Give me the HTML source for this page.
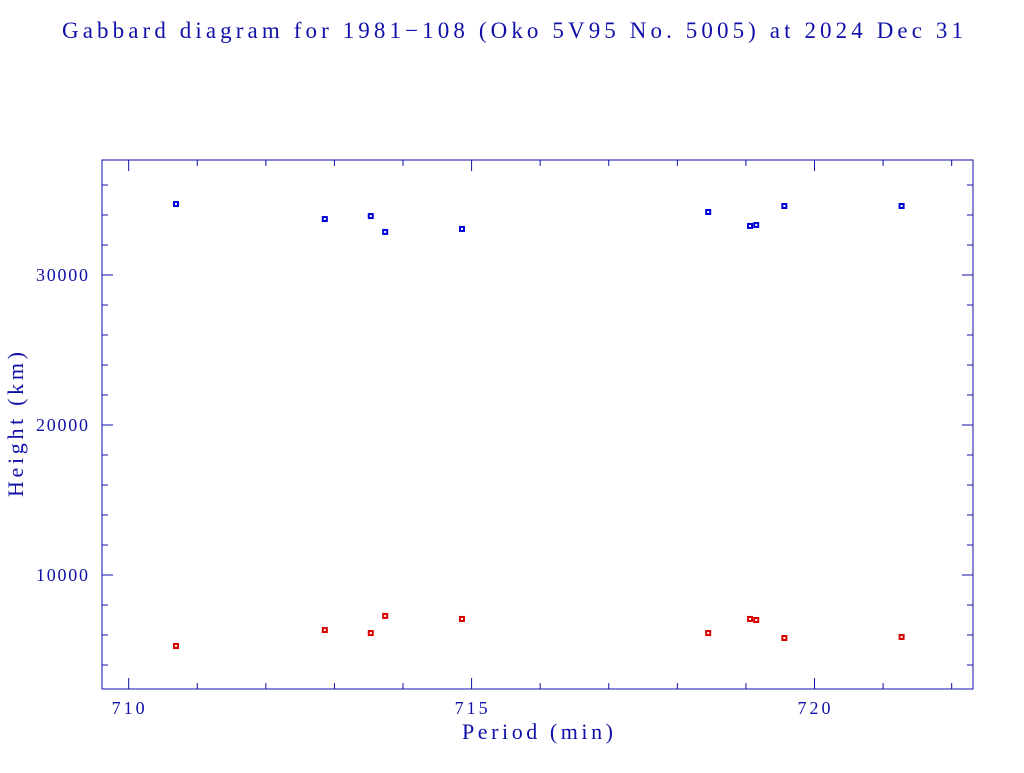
<!DOCTYPE html>
<html><head><meta charset="utf-8"><style>
body{margin:0;background:#fff;width:1024px;height:768px;overflow:hidden}
svg text{font-family:"Liberation Serif",serif;fill:#1010a8}
</style></head><body>
<svg width="1024" height="768">
<text x="62" y="38" font-size="23" textLength="901" lengthAdjust="spacing">Gabbard diagram for 1981−108 (Oko 5V95 No. 5005) at 2024 Dec 31</text>
<rect x="102" y="160" width="871" height="529" fill="none" stroke="#1010a8" stroke-width="1"/>
<g id="ticks"></g>
<g id="pts"></g>
<text x="462" y="739" font-size="22" textLength="151" lengthAdjust="spacing">Period (min)</text>
<text transform="translate(23,497) rotate(-90)" font-size="22" textLength="145" lengthAdjust="spacing">Height (km)</text>
</svg>
<script>
const periods=[710.69,712.86,713.53,713.74,714.86,718.45,719.06,719.15,719.56,721.27];
const apogees=[34730,33730,33930,32870,33070,34200,33270,33330,34600,34600];
const perigees=[5270,6330,6130,7270,7070,6130,7070,7000,5800,5870];
const xTicks=[710,715,720];
const yTicks=[10000,20000,30000];
const X0=102,X1=973,Y0=160,Y1=689,xmin=709.611,xmax=722.311,ymin=2400,ymax=37667;
const sx=v=>X0+(v-xmin)/(xmax-xmin)*(X1-X0);
const sy=v=>Y1-(v-ymin)/(ymax-ymin)*(Y1-Y0);
const NS="http://www.w3.org/2000/svg";
const tg=document.getElementById('ticks'),pg=document.getElementById('pts');
function line(x1,y1,x2,y2){const l=document.createElementNS(NS,'line');l.setAttribute('x1',x1);l.setAttribute('y1',y1);l.setAttribute('x2',x2);l.setAttribute('y2',y2);l.setAttribute('stroke','#1010a8');


tg.appendChild(l);}
for(let m=710;m<=722;m++){const x=sx(m),L=(m%5==0)?11:6;line(x,Y1,x,Y1-L);line(x,Y0,x,Y0+L);}
for(let v=4000;v<=36000;v+=2000){const y=sy(v),L=(v%10000==0)?11:6;line(X0,y,X0+L,y);line(X1,y,X1-L,y);}
xTicks.forEach(v=>{const t=document.createElementNS(NS,'text');t.setAttribute('x',sx(v)-17);t.setAttribute('y',Y1+25);t.setAttribute('font-size','18');t.setAttribute('textLength','33');t.setAttribute('lengthAdjust','spacing');t.textContent=v;


tg.appendChild(t);});
yTicks.forEach(v=>{const t=document.createElementNS(NS,'text');t.setAttribute('x',X0-66);t.setAttribute('y',sy(v)+6);t.setAttribute('font-size','18');t.setAttribute('textLength','52');t.setAttribute('lengthAdjust','spacing');t.textContent=v;


tg.appendChild(t);});
function pt(x,y,c,name){const r=document.createElementNS(NS,'rect');r.setAttribute('x',sx(x)-2);r.setAttribute('y',sy(y)-2);r.setAttribute('width',4);r.setAttribute('height',4);r.setAttribute('fill','#fff');r.setAttribute('stroke',c);r.setAttribute('stroke-width','2');


pg.appendChild(r);}
periods.forEach((p,i)=>{pt(p,apogees[i],'#0000d8','apogee-point');pt(p,perigees[i],'#d80000','perigee-point');});
</script>
</body></html>
